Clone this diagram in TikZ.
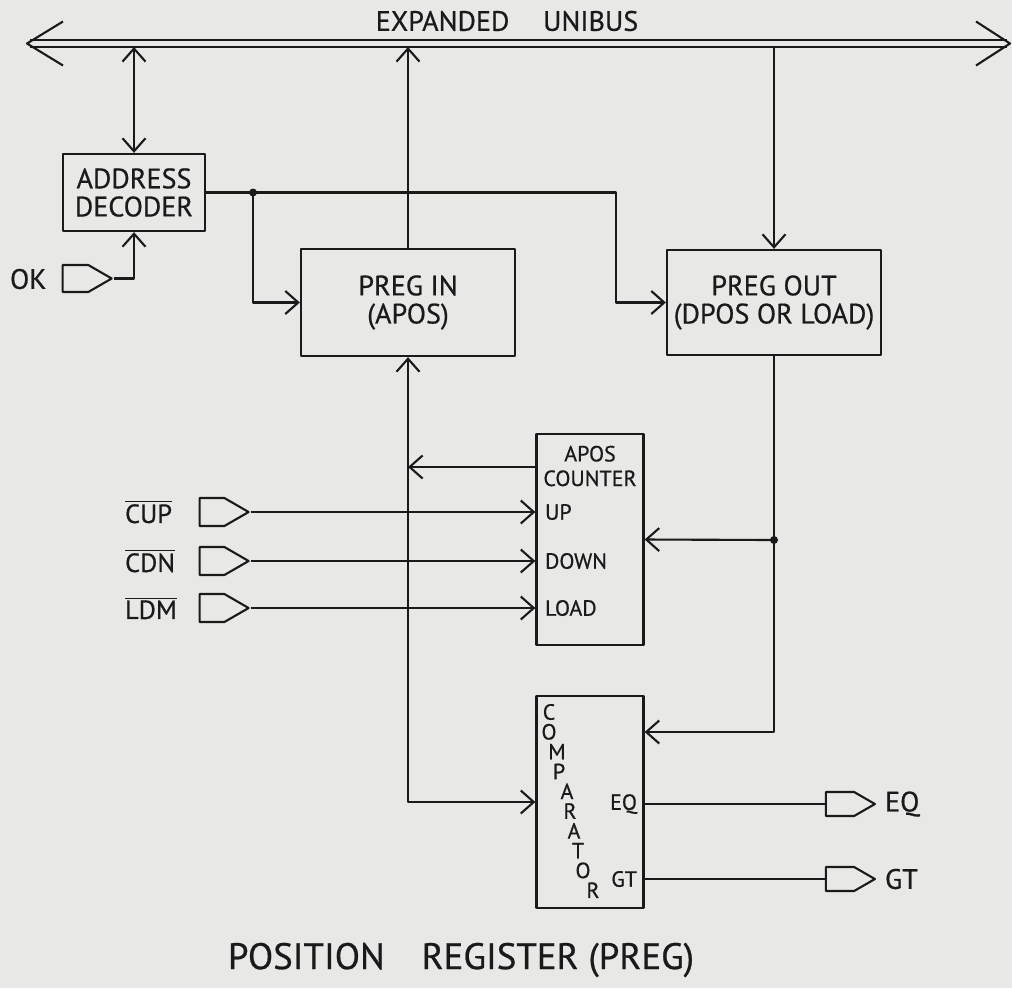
\documentclass[tikz,border=0pt]{standalone}
\usepackage{fontspec}
\setmainfont{PT Sans}[FakeBold=0.6]
\usetikzlibrary{arrows.meta, positioning, calc, shapes.symbols}
\definecolor{paper}{HTML}{E8E8E6}
\definecolor{ink}{HTML}{1A1A1A}

\begin{document}
\begin{tikzpicture}[
    x=0.2mm, y=-0.2mm,
    color=ink, line width=1.2pt, line join=round,
    >={Straight Barb[length=2.6mm, width=4.6mm]},
    block/.style={draw, line width=1.3pt, align=center, inner sep=0pt, font=\fontsize{16}{16}\selectfont},
    conn/.style={signal, signal to=east, signal from=nowhere, signal pointer angle=60, draw, line width=1.2pt, minimum width=9.8mm, minimum height=5.4mm, inner sep=0pt},
    lbl/.style={inner sep=0pt, font=\fontsize{12.5}{14}\selectfont},
    biglbl/.style={inner sep=0pt, font=\fontsize{16}{18}\selectfont},
    jdot/.style={circle, fill=ink, inner sep=0pt, minimum size=1.6mm},
]
\path[use as bounding box, fill=paper] (0,0) rectangle (1012,988);

% Bus
\coordinate (busL) at (27,43.5);
\coordinate (busR) at (1010,43.5);
\coordinate (busB) at (0,47);
\draw ($(busL)+(3,-3.5)$) -- ($(busR)+(-3,-3.5)$);
\draw ($(busL)+(3,3.5)$) -- ($(busR)+(-3,3.5)$);
\draw (busL) ++(36,-22) -- (busL) -- ++(36,22);
\draw (busR) ++(-34,-22) -- (busR) -- ++(-34,22);
\node[biglbl] (bustitle) at (507,21) {EXPANDED\hspace{1.2em}UNIBUS};

% Blocks
\node[block, minimum width=28.4mm, minimum height=15.4mm] (addr) at (134,192.5) {ADDRESS\\DECODER};
\node[block, minimum width=42.8mm, minimum height=21.4mm] (pregin) at (408,302.5) {PREG IN\\(APOS)};
\node[block, minimum width=42.8mm, minimum height=21mm] (pregout) at (774,302.5) {PREG OUT\\(DPOS OR LOAD)};
\node[block, minimum width=21.4mm, minimum height=42.2mm] (apos) at (590,539.5) {};
\node[lbl, align=center] (apostxt) at (590,466) {APOS\\COUNTER};
\node[block, minimum width=21.4mm, minimum height=42.4mm] (comp) at (590,802) {};
\foreach \i/\ch/\x in {0/C/549, 1/O/549, 2/M/557, 3/P/559, 4/A/567, 5/R/570, 6/A/574, 7/T/578, 8/O/583, 9/R/593}
    \node[lbl] (comp-\i) at (\x,{712+19.8*\i}) {\ch};

% Address decoder and bus links
\node[conn] (okc) at (75.5,278.5) {};
\node[biglbl, anchor=west] (oklbl) at (9,279) {OK};
\draw[->] (okc.east) -| (addr.south);
\draw[<->] (addr.north) -- (addr.north |- busB);
\draw[->] (pregin.north) -- (pregin.north |- busB);
\draw[->] (pregout.north |- busB) -- (pregout.north);
\coordinate (j1) at (253,192.5);
\coordinate (k1) at (616,302.5);
\draw[->] (addr.east) -| (k1) -- (pregout.west);
\draw[->] (j1) |- (pregin.west);
\node[jdot] (j1dot) at (j1) {};

% PREG OUT feedback
\coordinate (c2) at (774,732);
\coordinate (j2) at (774,540);
\draw[->] (pregout.south) -- (c2) -- (c2 -| comp.east);
\draw[->] (j2) -- (apos.east);
\node[jdot] (j2dot) at (j2) {};

% PREG IN links
\coordinate (aout) at (537,467);
\draw[->] (aout) -- (aout -| pregin.south);
\draw[<->] (pregin.south) |- (comp.west);

% Counter inputs
\foreach \nm/\y/\lbl/\pin in {cup/512/CUP/UP, cdn/561/CDN/DOWN, ldm/608/LDM/LOAD} {
    \node[conn, minimum height=5.6mm] (\nm) at (212,\y) {};
    \node[lbl, anchor=west, font=\fontsize{15}{15}\selectfont] (\nm-lbl) at (124,\y) {$\overline{\hbox{\lbl}}$};
    \node[lbl, anchor=west] (\nm-pin) at (544,\y) {\pin};
    \draw[->] (\nm.east) -- (\nm.east -| apos.west);
}

% Comparator outputs
\foreach \nm/\y/\lbl in {eq/804/EQ, gt/879/GT} {
    \node[conn, minimum height=4.8mm] (\nm) at (840,\y) {};
    \node[biglbl, anchor=west] (\nm-out) at (884,\y) {\lbl};
    \node[lbl, anchor=east] (\nm-pin) at (638,\y) {\lbl};
    \draw (\nm.west -| comp.east) -- (\nm.west);
}

\node[font=\fontsize{21}{24}\selectfont, inner sep=0pt] (title) at (461,960) {POSITION\hspace{1em}REGISTER (PREG)};
\end{tikzpicture}
\end{document}
